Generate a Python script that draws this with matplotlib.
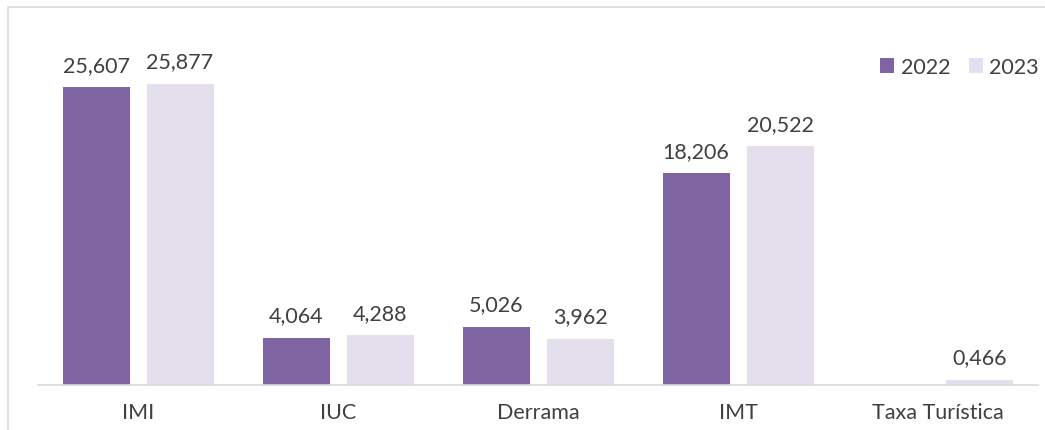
import matplotlib.pyplot as plt
import numpy as np
from matplotlib.patches import Rectangle

plt.rcParams['font.family'] = ['Lato', 'DejaVu Sans']

categories = ["IMI", "IUC", "Derrama", "IMT", "Taxa Turística"]
values_2022 = [25.607, 4.064, 5.026, 18.206, None]
values_2023 = [25.877, 4.288, 3.962, 20.522, 0.466]

c2022 = "#8064A2"
c2023 = "#E4DFEC"
txt = "#404040"


def fmt(v):
    return f"{v:.3f}".replace(".", ",")


fig = plt.figure(figsize=(10.45, 4.31), dpi=100)
ax = fig.add_axes([38 / 1045, (431 - 386) / 431, 1000 / 1045, 349 / 431])

x = np.arange(len(categories))
w = 0.335
off = 0.21

for xs, vals, col, lab in [(x - off, values_2022, c2022, "2022"),
                           (x + off, values_2023, c2023, "2023")]:
    hs = [v if v is not None else 0 for v in vals]
    bars = ax.bar(xs, hs, w, color=col, label=lab)
    for b, v in zip(bars, vals):
        if v is None:
            continue
        ax.annotate(fmt(v), (b.get_x() + b.get_width() / 2, v),
                    xytext=(0, 9), textcoords="offset points",
                    ha="center", va="bottom", fontsize=15.5, color=txt)

ax.set_xlim(-0.5, 4.5)
ax.set_ylim(0, 30)
ax.set_xticks(x)
ax.set_xticklabels(categories, fontsize=15.5, color=txt)
ax.tick_params(axis="x", length=0, pad=12)
ax.set_yticks([])
for s in ["top", "right", "left"]:
    ax.spines[s].set_visible(False)
ax.spines["bottom"].set_color("#D9D9D9")
ax.spines["bottom"].set_linewidth(1.2)

ax.legend(loc="upper right", bbox_to_anchor=(1.02, 0.995), ncol=2, frameon=False,
          fontsize=15.5, handlelength=0.65, handleheight=0.65, handletextpad=0.3,
          columnspacing=0.85, labelcolor=txt)

fig.patches.append(Rectangle((8 / 1045, -0.1), 1.2, (431 - 8) / 431 + 0.1,
                             transform=fig.transFigure, fill=False,
                             edgecolor="#D9D9D9", linewidth=1.2))

fig.savefig("out.png", dpi=100)
